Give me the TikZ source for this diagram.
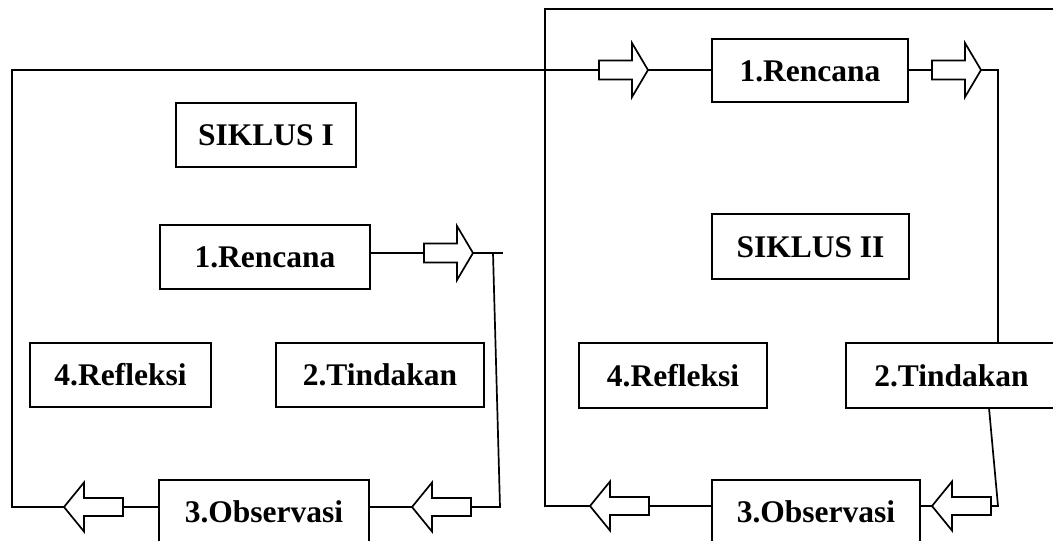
\documentclass[tikz,border=0pt]{standalone}
\usepackage{fontspec}
\setmainfont{Liberation Serif}
\tikzset{
  box/.style={draw, line width=1.7pt, rectangle, minimum height=64pt, inner sep=0pt,
    font=\fontsize{31.5}{36}\selectfont\bfseries, text height=21pt, text depth=0pt},
  conn/.style={line width=1.7pt},
  blkS/.pic={
    \draw[line width=1.7pt, fill=white] (0,0) -- (-16,-27) -- (-16,-9.5) -- (-49,-9.5) -- (-49,9.5) -- (-16,9.5) -- (-16,27) -- cycle;
    \coordinate (-tip) at (0,0); \coordinate (-tail) at (-49,0);
  },
  blkL/.pic={
    \draw[line width=1.7pt, fill=white] (0,0) -- (-20,-24.5) -- (-20,-9) -- (-59,-9) -- (-59,9) -- (-20,9) -- (-20,24.5) -- cycle;
    \coordinate (-tip) at (0,0); \coordinate (-tail) at (-59,0);
  }
}
\begin{document}
\begin{tikzpicture}[x=1pt, y=-1pt]
\useasboundingbox (0,0) rectangle (1053,541);
\clip (0,0) rectangle (1053,541);

% boxes, cycle I
\node[box, minimum width=180pt] (s1) at (266,135) {SIKLUS I};
\node[box, minimum width=210pt] (r1) at (265,257) {1.Rencana};
\node[box, minimum width=181pt] (f1) at (120.5,375) {4.Refleksi};
\node[box, minimum width=208pt] (t1) at (380,375) {2.Tindakan};
\node[box, minimum width=210pt] (o1) at (264,512) {3.Observasi};

% boxes, cycle II
\node[box, minimum width=196pt, minimum height=63pt] (r2) at (810,70.5) {1.Rencana};
\node[box, minimum width=197pt, minimum height=65pt] (s2) at (810.5,246.5) {SIKLUS II};
\node[box, minimum width=188pt, minimum height=65pt] (f2) at (673,375.5) {4.Refleksi};
\node[box, minimum width=211pt, minimum height=65pt] (t2) at (951.5,375.5) {2.Tindakan};
\node[box, minimum width=208pt] (o2) at (816,512) {3.Observasi};

% block arrow positions (coordinates only; drawn after the lines)
\coordinate (p1) at (648,70);
\coordinate (p2) at (981,70);
\coordinate (p3) at (473,253);
\coordinate (p4) at (412,507);
\coordinate (p5) at (64,507);
\coordinate (p6) at (590,506);
\coordinate (p7) at (932,506);

% corner points
\coordinate (lb) at (12,507);
\coordinate (lt) at (12,70);
\coordinate (k1) at (503,253);
\coordinate (k2) at (493,253);
\coordinate (k3) at (500,507);
\coordinate (rt1) at (998,70);
\coordinate (rb1) at (989,408);
\coordinate (rb2) at (998,506);
\coordinate (ob) at (545,506);
\coordinate (ot) at (545,9);
\coordinate (oe) at (1060,9);

% block arrows
\pic (a1) at (p1) {blkS};
\pic (a2) at (p2) {blkS};
\pic (a3) at (p3) {blkS};
\pic[rotate=180] (a4) at (p4) {blkL};
\pic[rotate=180] (a5) at (p5) {blkL};
\pic[rotate=180] (a6) at (p6) {blkL};
\pic[rotate=180] (a7) at (p7) {blkL};

% connectors, cycle I
\draw[conn] (a5-tip) -- (lb) -- (lt) -- (a1-tail);
\draw[conn] (r1.east |- a3-tail) -- (a3-tail);
\draw[conn] (a3-tip) -- (k1);
\draw[conn] (k2) -- (k3) -- (a4-tail);
\draw[conn] (a4-tip) -- (o1.east |- a4-tip);
\draw[conn] (o1.west |- a5-tail) -- (a5-tail);

% connectors, cycle II
\draw[conn] (a1-tip) -- (r2.west |- a1-tip);
\draw[conn] (r2.east |- a2-tail) -- (a2-tail);
\draw[conn] (a2-tip) -- (rt1) -- (rt1 |- t2.north);
\draw[conn] (rb1) -- (rb2) -- (a7-tail);
\draw[conn] (a7-tip) -- (o2.east |- a7-tip);
\draw[conn] (o2.west |- a6-tail) -- (a6-tail);
\draw[conn] (a6-tip) -- (ob) -- (ot) -- (oe);
\end{tikzpicture}
\end{document}
